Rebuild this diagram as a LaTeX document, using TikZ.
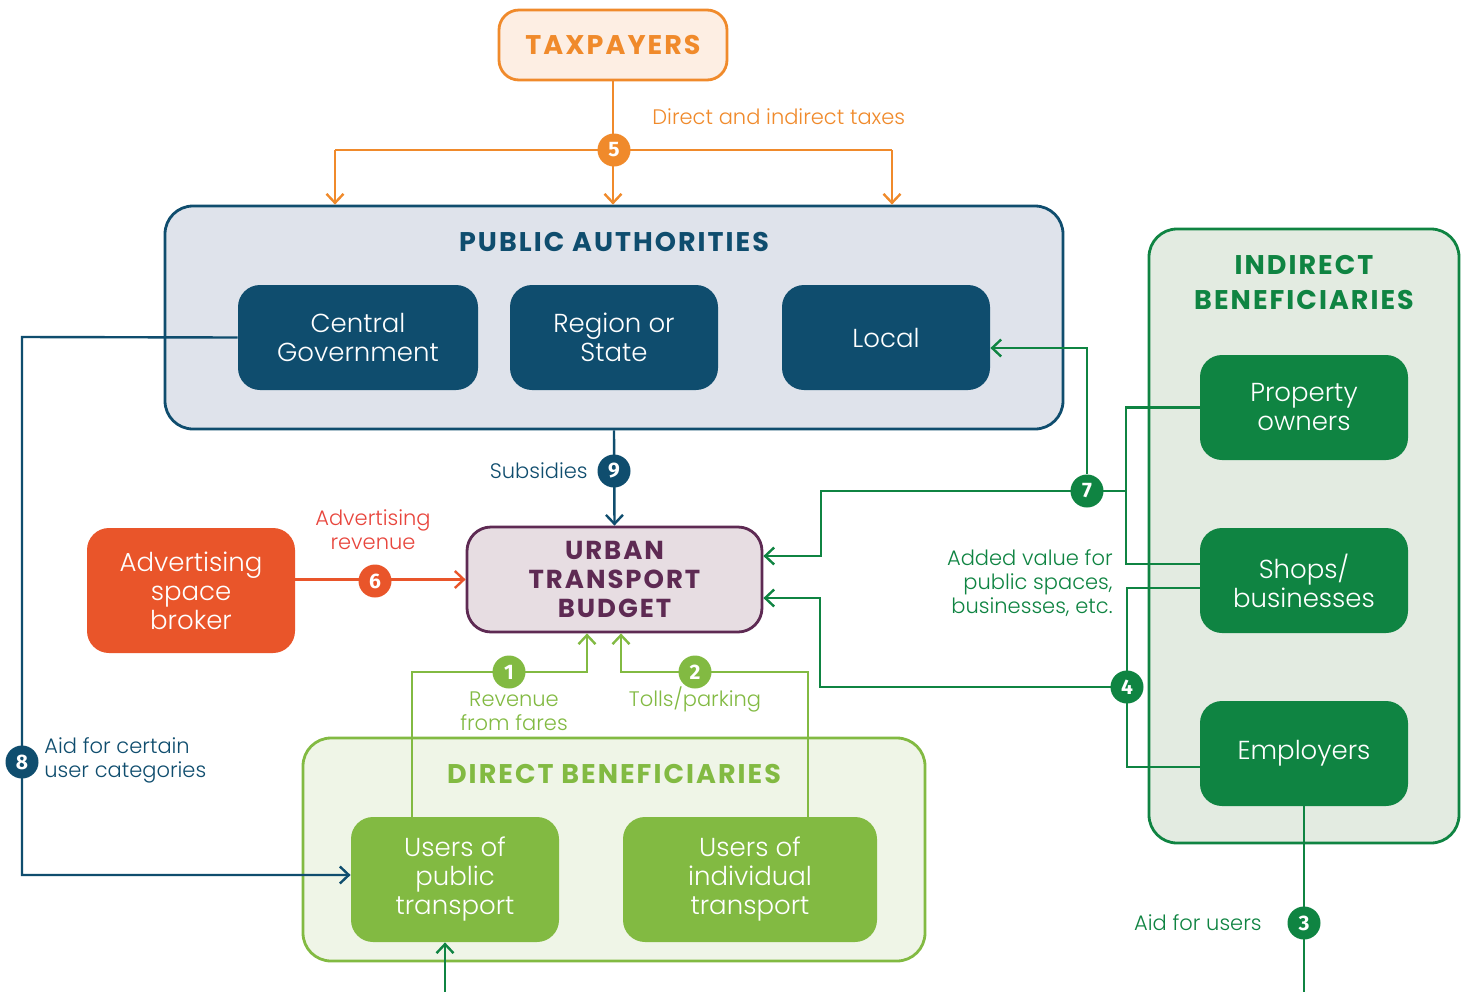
\documentclass[tikz,border=0pt]{standalone}
\usepackage{fontspec}
\setmainfont{Poppins}[UprightFont=* Light, BoldFont=* SemiBold]
\newfontfamily\titlefont{Poppins}[LetterSpace=7.5]
\newfontfamily\numfont{Fira Sans}
\usetikzlibrary{arrows.meta}
\definecolor{navy}{HTML}{0F4D6E}
\definecolor{pafill}{HTML}{DFE3EB}
\definecolor{taxor}{HTML}{F08A2B}
\definecolor{taxfill}{HTML}{FDEEE3}
\definecolor{plum}{HTML}{5E2A53}
\definecolor{budfill}{HTML}{E7DDE2}
\definecolor{advor}{HTML}{E9552A}
\definecolor{advtext}{HTML}{E8453C}
\definecolor{lgreen}{HTML}{82BA42}
\definecolor{dfill}{HTML}{EFF5E7}
\definecolor{dgreen}{HTML}{0F8442}
\definecolor{ifill}{HTML}{E3EBE1}
\begin{document}
\begin{tikzpicture}[x=0.5pt,y=-0.5pt,
  conn/.style={line width=1.2pt},
  arr/.style={-{Straight Barb[length=4.5pt,width=8.5pt]}},
  container/.style={draw, line width=1.4pt, rounded corners=14pt, inner sep=0pt},
  box/.style={rounded corners=11pt, text=white, align=center, inner sep=0pt,
    font=\fontsize{13}{14.5}\selectfont, minimum height=52.5pt},
  ttl/.style={font=\titlefont\bfseries\fontsize{13.5}{17.5}\selectfont, align=center, inner sep=0pt},
  num/.style={circle, minimum size=16.5pt, inner sep=0pt, text=white,
    font=\numfont\bfseries\fontsize{10.5}{10.5}\selectfont},
  lab/.style={font=\fontsize{10.5}{12}\selectfont, inner sep=0pt}
]
\useasboundingbox[fill=white] (0,0) rectangle (1464,992);

% containers
\node[container, draw=taxor, fill=taxfill, rounded corners=10pt, minimum width=114pt, minimum height=35pt,
  text=taxor, font=\titlefont\bfseries\fontsize{13.5}{15}\selectfont] (tax) at (613,45) {TAXPAYERS};
\node[container, draw=navy, fill=pafill, minimum width=449pt, minimum height=111.5pt] (pa) at (614,317.5) {};
\node[container, draw=lgreen, fill=dfill, minimum width=311pt, minimum height=111.5pt] (db) at (614,849.5) {};
\node[container, draw=dgreen, fill=ifill, minimum width=155pt, minimum height=307pt] (ib) at (1304,536) {};
\node[container, draw=plum, fill=budfill, rounded corners=12pt, minimum width=147.5pt, minimum height=52.5pt,
  text=plum, align=center, font=\titlefont\bfseries\fontsize{13}{14.5}\selectfont] (bud) at (614.5,579.5) {URBAN\\TRANSPORT\\BUDGET};

% titles
\node[ttl, text=navy] (patitle) at (614,242) {PUBLIC AUTHORITIES};
\node[ttl, text=lgreen] (dbtitle) at (614,774) {DIRECT BENEFICIARIES};
\node[ttl, text=dgreen] (ibtitle) at (1304,283) {INDIRECT\\BENEFICIARIES};

% inner boxes
\node[box, fill=navy, minimum width=120pt] (cg) at (358,337.5) {Central\\Government};
\node[box, fill=navy, minimum width=104pt] (rs) at (614,337.5) {Region or\\State};
\node[box, fill=navy, minimum width=104pt] (loc) at (886,337.5) {Local};
\node[box, fill=advor, minimum width=104pt, minimum height=62.5pt] (adv) at (191,590.5) {Advertising\\space\\broker};
\node[box, fill=lgreen, minimum width=104pt, minimum height=62.5pt] (pub) at (455,879.5) {Users of\\public\\transport};
\node[box, fill=lgreen, minimum width=127pt, minimum height=62.5pt] (ind) at (750,879.5) {Users of\\individual\\transport};
\node[box, fill=dgreen, minimum width=104pt] (prop) at (1304,407.5) {Property\\owners};
\node[box, fill=dgreen, minimum width=104pt] (shop) at (1304,580.5) {Shops/\\businesses};
\node[box, fill=dgreen, minimum width=104pt] (emp) at (1304,753.5) {Employers};

% coordinates
\coordinate (t5L) at (335,150);
\coordinate (t5R) at (892,150);
\coordinate (j7) at (1126,491);
\coordinate (k7) at (821,491);
\coordinate (j4) at (1127,687);
\coordinate (k4) at (820,687);
\coordinate (k8) at (22,337);
\coordinate (k1) at (412,672);
\coordinate (k2) at (808,672);
\coordinate (e3) at (1304,992);
\coordinate (e0) at (445,992);

% connectors
\begin{scope}[conn]
  \draw[taxor, arr] (tax.south) -- (tax.south |- pa.north);
  \draw[taxor] (t5L) -- (t5R);
  \draw[taxor, arr] (t5L) -- (t5L |- pa.north);
  \draw[taxor, arr] (t5R) -- (t5R |- pa.north);
  \draw[navy, arr] (pa.south) -- (bud.north);
  \draw[advor, arr] (adv.east |- bud.west) -- (bud.west);
  \draw[navy, arr] (cg.west) -- (k8) |- ([yshift=2.25pt]pub.west);
  \draw[lgreen, arr] ([xshift=-21.5pt]pub.north) -- (k1) -| ([xshift=-13.75pt]bud.south);
  \draw[lgreen, arr] ([xshift=29pt]ind.north) -- (k2) -| ([xshift=3.25pt]bud.south);
  \draw[dgreen] (prop.west) -| (j7) |- ([yshift=8.25pt]shop.west);
  \draw[dgreen, arr] (j7) -- (k7) |- ([yshift=11.75pt]bud.east);
  \draw[dgreen] ([yshift=-3.75pt]shop.west) -| (j4) |- ([yshift=-6.75pt]emp.west);
  \draw[dgreen, arr] (j4) -- (k4) |- ([yshift=-9.25pt]bud.east);
  \draw[dgreen] (emp.south) -- (e3);
  \draw[dgreen, arr] (e0) -- ([xshift=-5pt]pub.south);
\end{scope}

% numbered circles
\node[num, fill=taxor] (n5) at (614,150) {5};
\node[num, fill=navy] (n9) at (614,471) {9};
\node[num, fill=advor] (n6) at (375,581) {6};
\node[num, fill=lgreen] (n1) at (509,672) {1};
\node[num, fill=lgreen] (n2) at (695,672) {2};
\node[num, fill=dgreen] (n7) at (1087,491) {7};
\node[num, fill=dgreen] (n4) at (1127,687) {4};
\node[num, fill=navy] (n8) at (22,762) {8};
\node[num, fill=dgreen] (n3) at (1304,923) {3};
\draw[conn, dgreen, arr] (n7.north) |- ([yshift=-5.25pt]loc.east);

% labels
\node[lab, text=taxor, anchor=west] (l5) at (652,117) {Direct and indirect taxes};
\node[lab, text=navy, anchor=east] (l9) at (588,471) {Subsidies};
\node[lab, text=advtext, align=center] (l6) at (373,530) {Advertising\\revenue};
\node[lab, text=lgreen, align=center] (l1) at (514,711) {Revenue\\from fares};
\node[lab, text=lgreen] (l2) at (695,699) {Tolls/parking};
\node[lab, text=dgreen, align=right, anchor=east] (l7) at (1113,583) {Added value for\\public spaces,\\businesses, etc.};
\node[lab, text=navy, align=left, anchor=west] (l8) at (44,760) {Aid for certain\\user categories};
\node[lab, text=dgreen, anchor=east] (l3) at (1262,923) {Aid for users};
\end{tikzpicture}
\end{document}
